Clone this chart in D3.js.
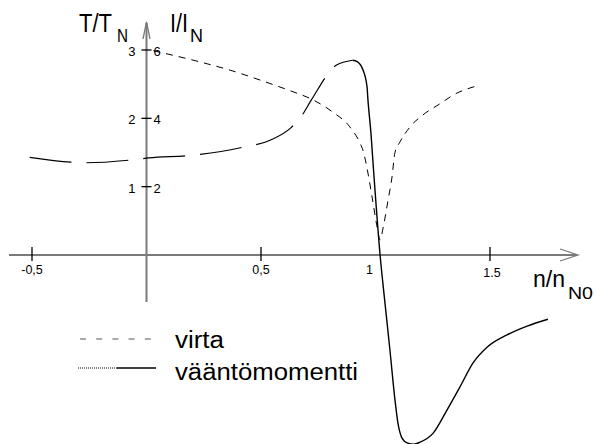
<!DOCTYPE html>
<html>
<head>
<meta charset="utf-8">
<script src="https://cdn.jsdelivr.net/npm/d3@7"></script>
<style>
  html, body { margin: 0; padding: 0; background: #fff; }
  svg { display: block; font-family: "Liberation Sans", Arial, sans-serif; }
</style>
</head>
<body>
<svg id="chart" width="594" height="444"></svg>
<script>
// Speed axis (n/nN0) ticks and labels
const speedTicks = [-0.5, 0.5, 1, 1.5];
const speedTickLabels = ["-0,5", "0,5", "1", "1.5"];
const speedTickMarks = [-0.5, 0.5, 1.5];

// Torque axis (T/TN) and current axis (I/IN) ticks
const torqueTicks = [1, 2, 3];
const torqueTickLabels = ["1", "2", "3"];
const currentTicks = [2, 4, 6];
const currentTickLabels = ["2", "4", "6"];

// Stator current I/IN against speed
const currentSpeed = [0.03, 0.234, 0.365, 0.496, 0.618, 0.727, 0.814, 0.888, 0.932, 0.945,
  0.967, 0.985, 1.007, 1.020, 1.033, 1.055, 1.072, 1.085, 1.107, 1.151, 1.207, 1.273, 1.356, 1.443];
const currentValue = [5.98, 5.65, 5.41, 5.12, 4.83, 4.54, 4.18, 3.75, 3.28, 3.07,
  2.40, 1.70, 0.82, 0.44, 0.79, 1.61, 2.28, 3.00, 3.31, 3.75, 4.10, 4.39, 4.74, 4.95];

// Torque T/TN against speed; the first part up to the pull-out peak is drawn dashed
const torqueSpeed = [-0.51, -0.33, -0.26, -0.07, 0.01, 0.20, 0.41, 0.54, 0.63, 0.68, 0.72, 0.83, 0.90,
  0.92, 0.945, 0.963, 0.967, 0.98, 0.993, 1.02, 1.04, 1.063, 1.085, 1.098, 1.116, 1.138, 1.168,
  1.194, 1.251, 1.312, 1.369, 1.426, 1.487, 1.574, 1.662, 1.753];
const torqueValue = [1.43, 1.36, 1.35, 1.39, 1.42, 1.46, 1.57, 1.68, 1.86, 2.05, 2.27, 2.78, 2.85,
  2.83, 2.71, 2.46, 2.27, 1.79, 1.17, 0, -0.66, -1.39, -2.12, -2.46, -2.68, -2.75, -2.77,
  -2.74, -2.61, -2.27, -1.93, -1.58, -1.35, -1.17, -1.04, -0.94];
const torquePeakSpeed = 0.90;

// Legend entries
const legendLabels = ["virta", "vääntömomentti"];

const svg = d3.select("#chart");

const x = d3.scaleLinear().domain([-0.5, 1.5]).range([32, 490]);
const yT = d3.scaleLinear().domain([0, 3]).range([255, 50]);
const yI = d3.scaleLinear().domain([0, 6]).range([255, 50]);

const x0 = x(0), y0 = yT(0);
const axisColor = "#7a7a7a";

// Horizontal axis with open arrow head
svg.append("line").attr("x1", 9).attr("x2", 577).attr("y1", y0).attr("y2", y0)
  .attr("stroke", axisColor).attr("stroke-width", 2);
svg.append("path")
  .attr("d", `M560,${y0 - 6} L578,${y0} L560,${y0 + 6}`)
  .attr("fill", "none").attr("stroke", axisColor).attr("stroke-width", 1.3);

// Vertical axis with open arrow head
svg.append("line").attr("x1", x0).attr("x2", x0).attr("y1", 302).attr("y2", 23)
  .attr("stroke", axisColor).attr("stroke-width", 2);
svg.append("path")
  .attr("d", `M${x0 - 3.5},39 L${x0},22 L${x0 + 3.5},39`)
  .attr("fill", "none").attr("stroke", axisColor).attr("stroke-width", 1.3);

// Speed ticks
svg.append("g").selectAll("line").data(speedTickMarks).join("line")
  .attr("x1", d => x(d)).attr("x2", d => x(d))
  .attr("y1", y0 - 8).attr("y2", y0 + 6)
  .attr("stroke", "#000").attr("stroke-width", 1.3);
svg.append("g").selectAll("text").data(speedTicks).join("text")
  .attr("x", d => x(d) - (d === 1 ? 6 : 0) + (d === 1.5 ? 2 : 0))
  .attr("y", d => d === 1.5 ? 277 : 274)
  .attr("text-anchor", "middle")
  .attr("font-size", 12.5)
  .text((d, i) => speedTickLabels[i]);

// Torque / current ticks on the vertical axis
svg.append("g").selectAll("line").data(torqueTicks).join("line")
  .attr("x1", x0 - 5).attr("x2", x0 + 5)
  .attr("y1", d => yT(d)).attr("y2", d => yT(d))
  .attr("stroke", "#000").attr("stroke-width", 1.3);
svg.append("g").selectAll("text").data(torqueTicks).join("text")
  .attr("x", x0 - 11).attr("y", d => yT(d) + 6)
  .attr("text-anchor", "end").attr("font-size", 13)
  .text((d, i) => torqueTickLabels[i]);
svg.append("g").selectAll("text").data(currentTicks).join("text")
  .attr("x", x0 + 7).attr("y", d => yI(d) + 6)
  .attr("text-anchor", "start").attr("font-size", 13)
  .text((d, i) => currentTickLabels[i]);

// Axis titles with subscripts
function label(txt, px, py, size, len) {
  svg.append("text").attr("x", px).attr("y", py).attr("font-size", size)
    .attr("textLength", len).attr("lengthAdjust", "spacingAndGlyphs").text(txt);
}
label("T/T", 79, 32, 26, 33);
label("N", 117, 42, 19, 11);
label("I/I", 170, 32, 26, 18);
label("N", 190, 42, 19, 13);
label("n/n", 533, 287, 24, 32);
label("N0", 568, 299, 16, 25);

// Curves
const line = d3.line().curve(d3.curveMonotoneX);

const currentPts = currentSpeed.map((n, i) => [x(n), yI(currentValue[i])]);
svg.append("path").attr("d", line(currentPts))
  .attr("fill", "none").attr("stroke", "#000").attr("stroke-width", 1)
  .attr("stroke-dasharray", "7,6");

const torqueAll = torqueSpeed.map((n, i) => ({ n, t: torqueValue[i] }));
const torqueMotor = torqueAll.filter(d => d.n <= torquePeakSpeed).map(d => [x(d.n), yT(d.t)]);
const torqueRest = torqueAll.filter(d => d.n >= torquePeakSpeed).map(d => [x(d.n), yT(d.t)]);
svg.append("path").attr("d", line(torqueMotor))
  .attr("fill", "none").attr("stroke", "#000").attr("stroke-width", 1.2)
  .attr("stroke-dasharray", "42,15");
svg.append("path").attr("d", line(torqueRest))
  .attr("fill", "none").attr("stroke", "#000").attr("stroke-width", 1.4);

// Legend
svg.append("line").attr("x1", 80).attr("x2", 151).attr("y1", 339).attr("y2", 339)
  .attr("stroke", "#555").attr("stroke-width", 1).attr("stroke-dasharray", "6,10.2");
svg.append("line").attr("x1", 78).attr("x2", 117).attr("y1", 368).attr("y2", 368)
  .attr("stroke", "#000").attr("stroke-width", 1).attr("stroke-dasharray", "1,1");
svg.append("line").attr("x1", 117).attr("x2", 156).attr("y1", 368).attr("y2", 368)
  .attr("stroke", "#000").attr("stroke-width", 1.6);
label(legendLabels[0], 175, 348, 23, 49);
label(legendLabels[1], 175, 380, 23, 183);
</script>
</body>
</html>
